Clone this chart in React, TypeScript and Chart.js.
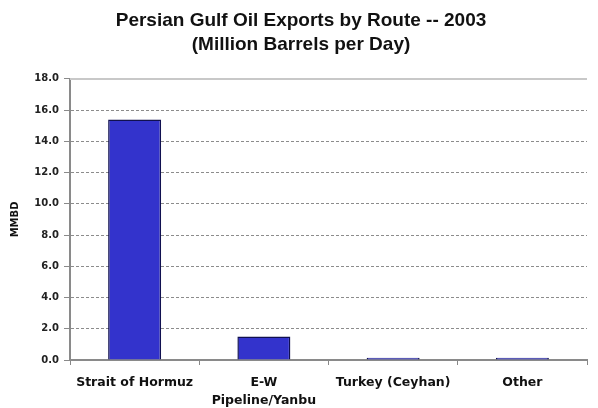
import React, { useEffect, useRef } from "react";
import { Chart, registerables } from "chart.js";

Chart.register(...registerables);

const titleLines = ["Persian Gulf Oil Exports by Route -- 2003", "(Million Barrels per Day)"];
const categories: (string | string[])[] = [
  "Strait of Hormuz",
  ["E-W", "Pipeline/Yanbu"],
  "Turkey (Ceyhan)",
  "Other",
];
const exportsMMBD = [15.4, 1.5, 0.15, 0.15];
const yAxisTitle = "MMBD";
const yMin = 0;
const yMax = 18;
const yStep = 2;

const topLinePlugin = {
  id: "topLine",
  afterDatasetsDraw(chart: any) {
    const { ctx, chartArea } = chart;
    ctx.save();
    ctx.strokeStyle = "#c8c8c8";
    ctx.lineWidth = 2;
    ctx.beginPath();
    ctx.moveTo(chartArea.left, chartArea.top);
    ctx.lineTo(chartArea.right, chartArea.top);
    ctx.stroke();
    ctx.restore();
  },
};

export default function App() {
  const canvasRef = useRef<HTMLCanvasElement | null>(null);

  useEffect(() => {
    document.body.style.margin = "0";
    const canvas = canvasRef.current;
    if (!canvas) return;
    const chart = new Chart(canvas, {
      type: "bar",
      data: {
        labels: categories,
        datasets: [
          {
            data: exportsMMBD,
            backgroundColor: "#3333cc",
            borderColor: "#101050",
            borderWidth: 1.5,
            categoryPercentage: 1,
            barPercentage: 0.41,
          },
        ],
      },
      options: {
        responsive: false,
        animation: false,
        devicePixelRatio: 1,
        layout: { padding: { left: 15, right: 11, top: 0, bottom: 0 } },
        plugins: {
          legend: { display: false },
          tooltip: { enabled: false },
          title: {
            display: true,
            text: titleLines,
            color: "#111111",
            font: { family: "'Liberation Sans', Arial, sans-serif", size: 19, weight: "bold", lineHeight: 1.26 },
            padding: { top: 9, bottom: 22 },
          },
        },
        scales: {
          x: {
            grid: {
              offset: true,
              drawOnChartArea: false,
              drawTicks: true,
              tickLength: 5,
              tickColor: "#888888",
              tickWidth: 1,
            },
            border: { display: true, color: "#8a8a8a", width: 2 },
            ticks: {
              color: "#111111",
              font: { family: "'DejaVu Sans', Verdana, sans-serif", size: 12.5, weight: "bold", lineHeight: 1.45 },
              padding: 9,
              maxRotation: 0,
              autoSkip: false,
            },
            afterFit(scale: any) {
              scale.height = 48;
            },
          },
          y: {
            min: yMin,
            max: yMax,
            grid: {
              color: (ctx: any) =>
                ctx.tick && (ctx.tick.value === yMin || ctx.tick.value === yMax) ? "rgba(0,0,0,0)" : "#8c8c8c",
              lineWidth: 1,
              drawTicks: true,
              tickLength: 6,
              tickColor: "#8a8a8a",
              tickBorderDash: [],
              tickWidth: 1,
            },
            border: { display: true, color: "#8a8a8a", width: 2, dash: [3, 2] },
            ticks: {
              stepSize: yStep,
              color: "#222222",
              font: { family: "'DejaVu Sans', Verdana, sans-serif", size: 10, weight: "bold" },
              padding: 5,
              callback: (v: any) => Number(v).toFixed(1),
            },
            title: {
              display: true,
              text: yAxisTitle,
              color: "#111111",
              font: { family: "'DejaVu Sans', Verdana, sans-serif", size: 10, weight: "bold" },
              padding: { top: -6, bottom: 0 },
            },
            afterFit(scale: any) {
              scale.width = 55;
            },
          },
        },
      },
      plugins: [topLinePlugin],
    } as any);
    return () => chart.destroy();
  }, []);

  return (
    <div style={{ position: "absolute", left: 0, top: 0, width: 598, height: 408, background: "#ffffff" }}>
      <canvas ref={canvasRef} width={598} height={408} />
    </div>
  );
}
